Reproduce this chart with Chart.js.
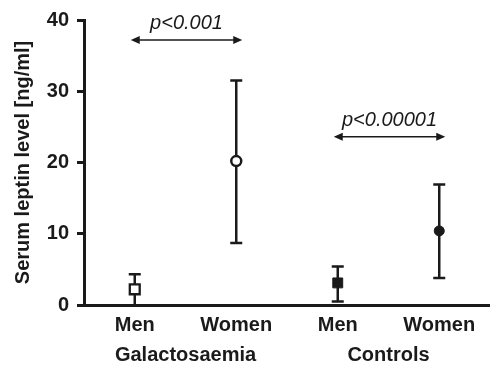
<!DOCTYPE html>
<html>
<head>
<meta charset="utf-8">
<script src="https://cdn.jsdelivr.net/npm/chart.js@4"></script>
<style>
  html, body { margin: 0; padding: 0; background: #fff; }
  #wrap { width: 490px; height: 368px; position: relative; }
</style>
</head>
<body>
<div id="wrap"><canvas id="chart"></canvas></div>
<script>
const categories = ['Men', 'Women', 'Men', 'Women'];
const groups = ['Galactosaemia', 'Controls'];
const means = [2.2, 20.2, 3.1, 10.4];
const lowerBars = [0, 8.7, 0.5, 3.8];
const upperBars = [4.3, 31.5, 5.4, 16.9];
const yTicks = [0, 10, 20, 30, 40];
const pLabels = ['p<0.001', 'p<0.00001'];
const pFrom = [0, 2];
const pTo = [1, 3];
const pLevel = [37.2, 23.6];

const FONT = '"Liberation Sans", Arial, Helvetica, sans-serif';
const INK = '#1a1a1a';

// error bars under the markers
const errorBars = {
    id: 'errorBars',
    beforeDatasetsDraw(chart) {
        const { ctx, scales: { x, y } } = chart;
        ctx.save();
        ctx.strokeStyle = INK;
        ctx.lineWidth = 2.5;
        means.forEach((m, i) => {
            const px = x.getPixelForValue(i);
            const top = y.getPixelForValue(upperBars[i]);
            const bot = y.getPixelForValue(lowerBars[i]);
            ctx.beginPath();
            ctx.moveTo(px, top);
            ctx.lineTo(px, bot);
            ctx.moveTo(px - 6, top);
            ctx.lineTo(px + 6, top);
            if (lowerBars[i] > 0) {
                ctx.moveTo(px - 6, bot);
                ctx.lineTo(px + 6, bot);
            }
            ctx.stroke();
        });
        ctx.restore();
    }
};

// significance arrows and group names
const annotations = {
    id: 'annotations',
    afterDraw(chart) {
        const { ctx, scales: { x, y } } = chart;
        ctx.save();
        ctx.strokeStyle = INK;
        ctx.fillStyle = INK;
        pLabels.forEach((label, i) => {
            const x1 = x.getPixelForValue(pFrom[i]) - 4;
            const x2 = x.getPixelForValue(pTo[i]) + 6;
            const py = y.getPixelForValue(pLevel[i]);
            ctx.lineWidth = 1.5;
            ctx.beginPath();
            ctx.moveTo(x1 + 6, py);
            ctx.lineTo(x2 - 6, py);
            ctx.stroke();
            [[x1, 1], [x2, -1]].forEach(([ax, dir]) => {
                ctx.beginPath();
                ctx.moveTo(ax, py);
                ctx.lineTo(ax + dir * 9, py - 4);
                ctx.lineTo(ax + dir * 9, py + 4);
                ctx.closePath();
                ctx.fill();
            });
            ctx.font = 'italic 20px ' + FONT;
            ctx.textAlign = 'center';
            ctx.textBaseline = 'alphabetic';
            ctx.fillText(label, (x1 + x2) / 2, py - 11);
        });
        ctx.font = 'bold 20px ' + FONT;
        ctx.textAlign = 'center';
        ctx.textBaseline = 'middle';
        groups.forEach((g, i) => {
            const cx = (x.getPixelForValue(i * 2) + x.getPixelForValue(i * 2 + 1)) / 2;
            ctx.fillText(g, cx, 355);
        });
        ctx.restore();
    }
};

const ctx = document.getElementById('chart').getContext('2d');
new Chart(ctx, {
    type: 'line',
    data: {
        labels: categories,
        datasets: [{
            data: means,
            showLine: false,
            pointStyle: ['rect', 'circle', 'rect', 'circle'],
            pointRadius: [7, 5, 7, 5],
            pointBackgroundColor: ['#fff', '#fff', INK, INK],
            pointBorderColor: INK,
            pointBorderWidth: [2.3, 2.5, 1, 1]
        }]
    },
    options: {
        responsive: true,
        maintainAspectRatio: false,
        animation: false,
        layout: { autoPadding: false, padding: { top: 20, right: 0, bottom: 0, left: 0 } },
        plugins: { legend: { display: false }, tooltip: { enabled: false } },
        scales: {
            x: {
                offset: true,
                grid: { display: false, drawTicks: false },
                border: { display: true, color: INK, width: 3 },
                ticks: { color: INK, font: { family: FONT, size: 20, weight: 'bold' }, padding: 8 },
                afterFit: s => { s.height = 63; s.paddingRight = 0; s.paddingLeft = 0; }
            },
            y: {
                min: 0,
                max: 40,
                afterBuildTicks: s => { s.ticks = yTicks.map(v => ({ value: v })); },
                grid: { drawOnChartArea: false, tickLength: 7, tickWidth: 3, color: INK },
                border: { display: true, color: INK, width: 3 },
                ticks: { color: INK, font: { family: FONT, size: 20, weight: 'bold' }, padding: 8 },
                title: {
                    display: true,
                    text: 'Serum leptin level [ng/ml]',
                    color: INK,
                    font: { family: FONT, size: 20, weight: 'bold' },
                    padding: { top: 11, bottom: 0 }
                },
                afterFit: s => { s.width = 84; s.paddingTop = 0; s.paddingBottom = 0; }
            }
        }
    },
    plugins: [errorBars, annotations]
});
</script>
</body>
</html>
